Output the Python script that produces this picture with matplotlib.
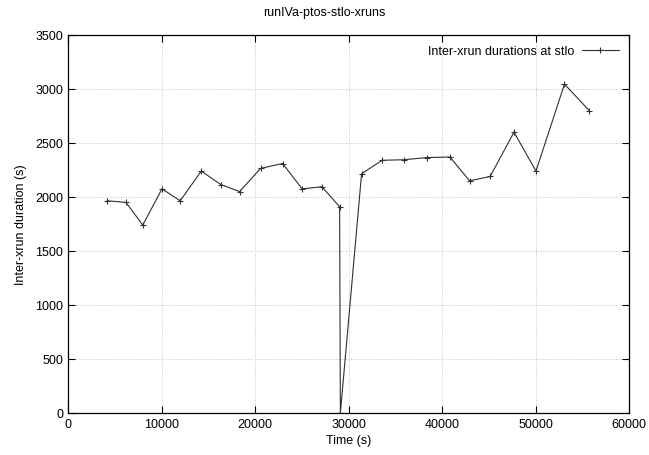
import matplotlib.pyplot as plt

plt.rcParams["font.family"] = ["Liberation Sans", "DejaVu Sans"]
plt.rcParams["font.size"] = 9

time_s = [4170, 6200, 8000, 10050, 12000, 14250, 16350, 18350, 20600, 22950,
          25050, 27150, 29050, 29130, 31400, 33600, 35950, 38350, 40850,
          42950, 45150, 47700, 50050, 53100, 55750]
duration_s = [1965, 1950, 1740, 2075, 1965, 2240, 2115, 2050, 2265, 2310,
              2075, 2095, 1910, 0, 2215, 2340, 2345, 2365, 2370,
              2150, 2190, 2600, 2240, 3045, 2800]

fig = plt.figure(figsize=(6.49, 4.56), dpi=100)
ax = fig.add_axes([68 / 649, 1 - 414 / 456, (629 - 68) / 649, (414 - 36) / 456])

ax.plot(time_s, duration_s, color="#303030", linewidth=0.8, marker="+",
        markersize=4.5, markeredgewidth=0.8, label="Inter-xrun durations at stlo")

ax.set_xlim(0, 60000)
ax.set_ylim(0, 3500)
ax.set_xticks(range(0, 60001, 10000))
ax.set_yticks(range(0, 3501, 500))
ax.grid(True, color="#b0b0b0", linestyle=(0, (1, 2)), linewidth=0.6)
ax.tick_params(direction="in", top=True, right=True, length=5, width=0.8)
for s in ax.spines.values():
    s.set_linewidth(0.9)

ax.set_xlabel("Time (s)", labelpad=3)
ax.set_ylabel("Inter-xrun duration (s)", labelpad=6)
fig.text(0.5, 1 - 13 / 456, "runIVa-ptos-stlo-xruns", ha="center", va="center")

ax.legend(loc="upper right", frameon=False, markerfirst=False, handlelength=3,
          handletextpad=0.6, borderaxespad=0.4)

fig.savefig("out.png")
